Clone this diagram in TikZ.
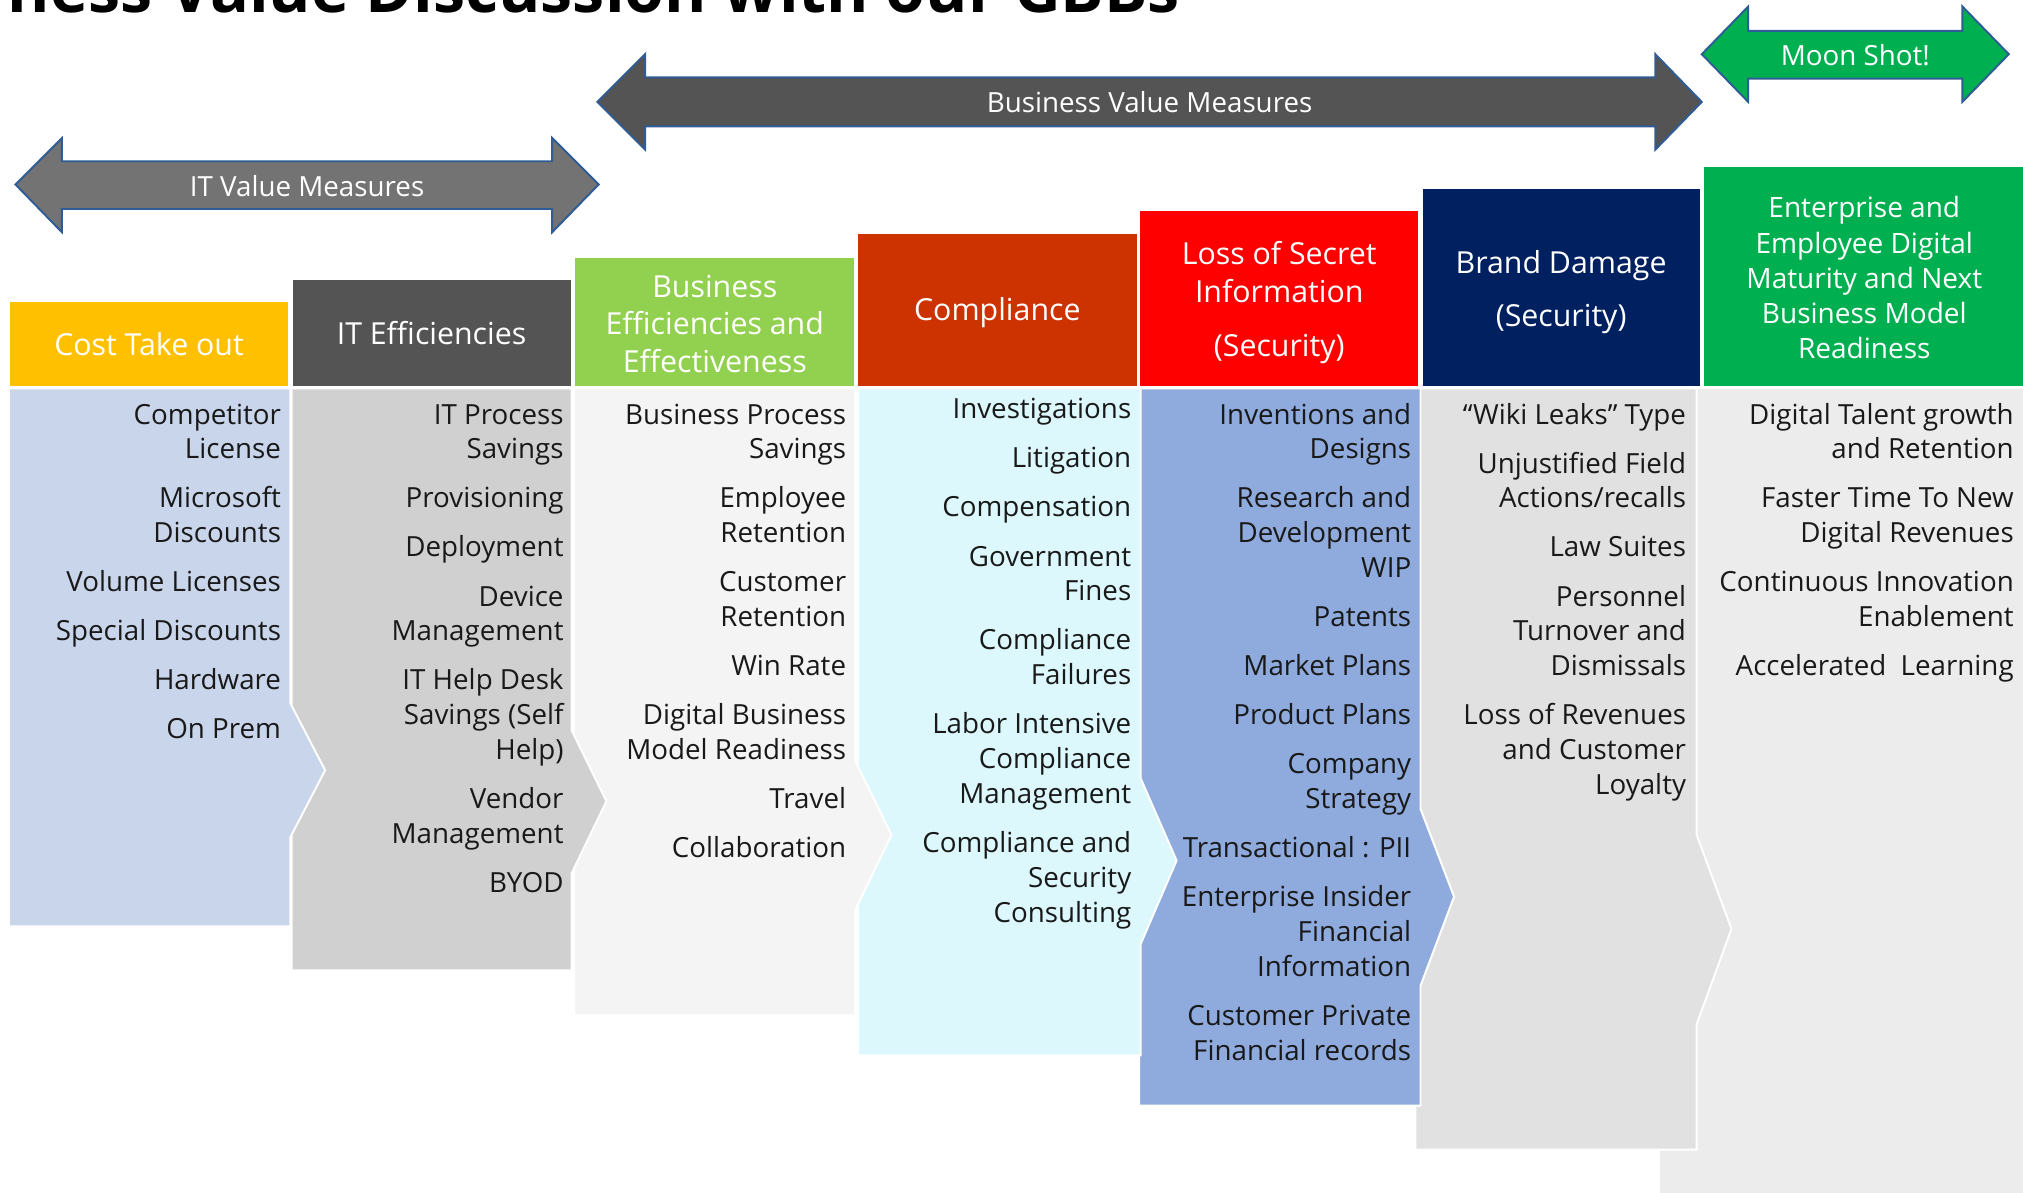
\documentclass[tikz,border=0pt]{standalone}
\usepackage{xcolor}
\usepackage{tikz}
\usepackage{fontspec}
\setmainfont{Open Sans}

\definecolor{bandblue}{HTML}{2F5C94}
\definecolor{itgray}{HTML}{737373}
\definecolor{bizgray}{HTML}{545454}
\definecolor{moongreen}{HTML}{00B050}
\definecolor{costhead}{HTML}{FFC000}
\definecolor{ithead}{HTML}{545454}
\definecolor{bizhead}{HTML}{92D050}
\definecolor{comphead}{HTML}{CC3300}
\definecolor{losshead}{HTML}{FF0000}
\definecolor{brandhead}{HTML}{002060}
\definecolor{enthead}{HTML}{00B050}
\definecolor{costbody}{HTML}{C9D5EA}
\definecolor{itbody}{HTML}{D0D0D0}
\definecolor{bizbody}{HTML}{F4F4F4}
\definecolor{compbody}{HTML}{DCF8FD}
\definecolor{lossbody}{HTML}{8FAADC}
\definecolor{brandbody}{HTML}{E1E1E1}
\definecolor{entbody}{HTML}{ECECEC}

\begin{document}
\begin{tikzpicture}[x=1pt,y=-1pt,
  band/.style={draw=bandblue, line width=1.5pt, line join=miter},
  bandtext/.style={text=white, inner sep=0pt, font=\fontsize{21.5}{24}\selectfont},
  body/.style={draw=white, line width=1.5pt},
  head/.style={draw=white, line width=1.5pt, text=white, align=center, inner sep=0pt, font=\fontsize{23.5}{29}\selectfont},
  item/.style={align=right, anchor=north east, inner sep=0pt, text=black!90, font=\fontsize{21.5}{27}\selectfont}]
\useasboundingbox (0,0) rectangle (1568,924);
\clip (0,0) rectangle (1568,924);

% title, cut off at the top
\node[anchor=base west, inner sep=0pt, font=\fontsize{50}{56}\selectfont\bfseries] (title) at (6,10) {ness Value Discussion with our GBBs};

% measure arrows
\filldraw[band, fill=itgray] (12,143) -- (48,107) -- (48,125) -- (428,125) -- (428,107) -- (464,143) -- (428,180) -- (428,162) -- (48,162) -- (48,180) -- cycle;
\filldraw[band, fill=bizgray] (463,79) -- (500,42) -- (500,60) -- (1283,60) -- (1283,42) -- (1319,79) -- (1283,116) -- (1283,98) -- (500,98) -- (500,116) -- cycle;
\filldraw[band, fill=moongreen] (1319,42) -- (1355,5) -- (1355,24) -- (1521,24) -- (1521,5) -- (1557,42) -- (1521,79) -- (1521,61) -- (1355,61) -- (1355,79) -- cycle;
\node[bandtext] (itval) at (238,144) {IT Value Measures};
\node[bandtext] (bizval) at (891,79) {Business Value Measures};
\node[bandtext] (moon) at (1438,43) {Moon Shot!};

% column bodies, right to left so each point lies over the next column
\filldraw[body, fill=entbody] (1286,301) rectangle (1590,940);
\filldraw[body, fill=brandbody] (1097,301) -- (1315,301) -- (1315,647) -- (1342,720) -- (1315,794) -- (1315,891) -- (1097,891) -- cycle;
\filldraw[body, fill=lossbody] (883,301) -- (1101,301) -- (1101,627) -- (1127,695) -- (1101,764) -- (1101,857) -- (883,857) -- cycle;
\filldraw[body, fill=compbody] (665,301) -- (884,301) -- (884,603) -- (912,667) -- (884,732) -- (884,818) -- (665,818) -- cycle;
\filldraw[body, fill=bizbody] (445,301) -- (663,301) -- (663,590) -- (691,647) -- (663,705) -- (663,787) -- (445,787) -- cycle;
\filldraw[body, fill=itbody] (226,301) -- (443,301) -- (443,566) -- (470,621) -- (443,677) -- (443,752) -- (226,752) -- cycle;
\filldraw[body, fill=costbody] (7,301) -- (225,301) -- (225,545) -- (252,597) -- (225,649) -- (225,718) -- (7,718) -- cycle;

% headers
\node[head, fill=costhead, minimum width=217, minimum height=67] (cost) at (115.5,266.5) {Cost Take out};
\node[head, fill=ithead, minimum width=217, minimum height=84] (iteff) at (334.5,258) {IT Efficiencies};
\node[head, fill=bizhead, minimum width=218, minimum height=101] (bizeff) at (554,249.5) {\rule{0pt}{20pt}Business\\Efficiencies and\\Effectiveness};
\node[head, fill=comphead, minimum width=218, minimum height=119] (comp) at (773,240.5) {\rule{0pt}{22pt}Compliance};
\node[head, fill=losshead, minimum width=217, minimum height=137] (loss) at (991.5,231.5) {\rule{0pt}{24pt}Loss of Secret\\Information\\[13pt](Security)};
\node[head, fill=brandhead, minimum width=216, minimum height=154] (brand) at (1210,223) {\rule{0pt}{25pt}Brand Damage\\[12pt](Security)};
\node[head, fill=enthead, minimum width=250, minimum height=171, font=\fontsize{21.7}{27.3}\selectfont] (ent) at (1445,214.5) {\rule{0pt}{18pt}Enterprise and\\Employee Digital\\Maturity and Next\\Business Model\\Readiness};

% items
\node[item] (costlist) at (218,311.5) {\rule{0pt}{17pt}Competitor\\License\\[11pt]Microsoft\\Discounts\\[11pt]Volume Licenses\\[11pt]Special Discounts\\[11pt]Hardware\\[11pt]On Prem};
\node[item] (itlist) at (437,311.5) {\rule{0pt}{17pt}IT Process\\Savings\\[11pt]Provisioning\\[11pt]Deployment\\[11pt]Device\\Management\\[11pt]IT Help Desk\\Savings (Self\\Help)\\[11pt]Vendor\\Management\\[11pt]BYOD};
\node[item] (bizlist) at (656,311.5) {\rule{0pt}{17pt}Business Process\\Savings\\[11pt]Employee\\Retention\\[11pt]Customer\\Retention\\[11pt]Win Rate\\[11pt]Digital Business\\Model Readiness\\[11pt]Travel\\[11pt]Collaboration};
\node[item] (complist) at (877,307.5) {\rule{0pt}{17pt}Investigations\\[11pt]Litigation\\[11pt]Compensation\\[11pt]Government\\Fines\\[11pt]Compliance\\Failures\\[11pt]Labor Intensive\\Compliance\\Management\\[11pt]Compliance and\\Security\\Consulting};
\node[item] (losslist) at (1094,311.5) {\rule{0pt}{17pt}Inventions and\\Designs\\[11pt]Research and\\Development\\WIP\\[11pt]Patents\\[11pt]Market Plans\\[11pt]Product Plans\\[11pt]Company\\Strategy\\[11pt]Transactional : PII\\[11pt]Enterprise Insider\\Financial\\Information\\[11pt]Customer Private\\Financial records};
\node[item] (brandlist) at (1307,311.5) {\rule{0pt}{17pt}“Wiki Leaks” Type\\[11pt]Unjustified Field\\Actions/recalls\\[11pt]Law Suites\\[11pt]Personnel\\Turnover and\\Dismissals\\[11pt]Loss of Revenues\\and Customer\\Loyalty};
\node[item] (entlist) at (1561,311.5) {\rule{0pt}{17pt}Digital Talent growth\\and Retention\\[11pt]Faster Time To New\\Digital Revenues\\[11pt]Continuous Innovation\\Enablement\\[11pt]Accelerated~~Learning};
\end{tikzpicture}
\end{document}
